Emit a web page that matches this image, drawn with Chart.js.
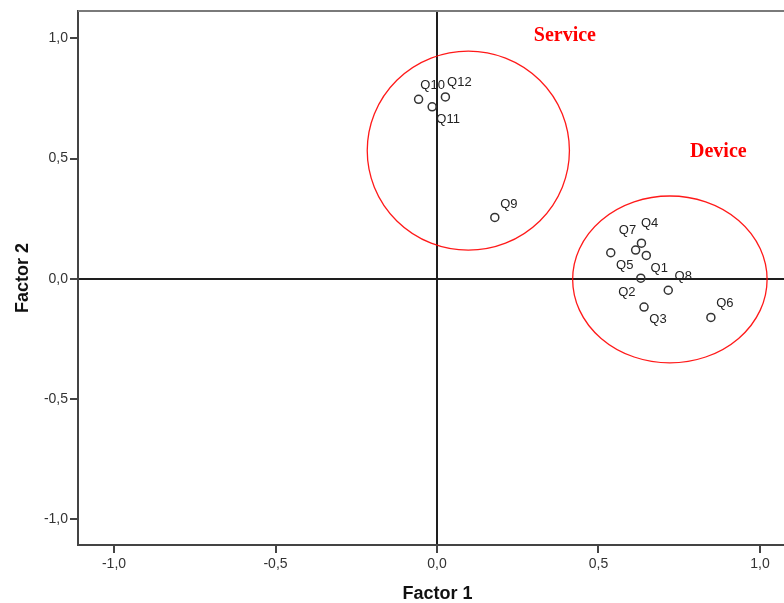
<!DOCTYPE html>
<html>
<head>
<meta charset="utf-8">
<script src="https://cdn.jsdelivr.net/npm/chart.js@4/dist/chart.umd.min.js"></script>
<style>
  html, body { margin: 0; padding: 0; background: #fff; overflow: hidden; }
  #wrap { width: 784px; height: 603px; position: relative; overflow: hidden; }
</style>
</head>
<body>
<div id="wrap"><canvas id="plot" width="797" height="603"></canvas></div>
<script>
// Factor loadings of the twelve questionnaire items
const itemNames = ['Q1', 'Q2', 'Q3', 'Q4', 'Q5', 'Q6', 'Q7', 'Q8', 'Q9', 'Q10', 'Q11', 'Q12'];
const factor1 = [0.648, 0.631, 0.641, 0.615, 0.538, 0.848, 0.633, 0.716, 0.179, -0.057, -0.015, 0.026];
const factor2 = [0.097, 0.002, -0.118, 0.119, 0.108, -0.161, 0.148, -0.048, 0.255, 0.746, 0.715, 0.756];

// Axis ticks
const tickValues = [-1.0, -0.5, 0.0, 0.5, 1.0];

// Item groups outlined on the plot (centre and radii in factor units)
const groupNames = ['Service', 'Device'];
const groupCenterX = [0.097, 0.721];
const groupCenterY = [0.533, -0.003];
const groupRadiusX = [0.313, 0.301];
const groupRadiusY = [0.414, 0.347];
const groupLabelX = [0.396, 0.871];
const groupLabelY = [0.99, 0.505];

// Where each item label sits relative to its marker (pixels)
const labelShift = [[13, 13], [-14, 14], [14, 12], [14, -27], [14, 13], [14, -14],
                    [-14, -13], [15, -14], [14, -13], [14, -14], [16, 13], [14, -15]];

const fmt = v => (Math.abs(v) < 1e-9 ? 0 : v).toFixed(1).replace('.', ',');

// keep the plot box flush with the canvas edges
const noEdgePadding = s => { s.paddingLeft = 0; s.paddingRight = 0; s.paddingTop = 0; s.paddingBottom = 0; };

const overlay = {
  id: 'overlay',
  beforeDatasetsDraw(chart) {
    const { ctx, chartArea: a, scales: { x, y } } = chart;
    ctx.save();
    // top and right frame lines
    ctx.strokeStyle = '#7a7a7a';
    ctx.lineWidth = 2;
    ctx.beginPath();
    ctx.moveTo(a.left, a.top);
    ctx.lineTo(a.right, a.top);
    ctx.lineTo(a.right, a.bottom);
    ctx.stroke();
    // group ellipses
    ctx.beginPath();
    ctx.rect(a.left, a.top, a.right - a.left, a.bottom - a.top);
    ctx.clip();
    ctx.strokeStyle = 'rgba(255,0,0,0.9)';
    ctx.lineWidth = 1.3;
    for (let i = 0; i < groupNames.length; i++) {
      const cx = x.getPixelForValue(groupCenterX[i]);
      const cy = y.getPixelForValue(groupCenterY[i]);
      const rx = x.getPixelForValue(groupCenterX[i] + groupRadiusX[i]) - cx;
      const ry = cy - y.getPixelForValue(groupCenterY[i] + groupRadiusY[i]);
      ctx.beginPath();
      ctx.ellipse(cx, cy, rx, ry, 0, 0, Math.PI * 2);
      ctx.stroke();
    }
    // group names
    ctx.fillStyle = '#ff0000';
    ctx.font = 'bold 20px "Liberation Serif", "Times New Roman", serif';
    ctx.textAlign = 'center';
    ctx.textBaseline = 'alphabetic';
    for (let i = 0; i < groupNames.length; i++) {
      ctx.fillText(groupNames[i], x.getPixelForValue(groupLabelX[i]), y.getPixelForValue(groupLabelY[i]));
    }
    ctx.restore();
  },
  afterDatasetsDraw(chart) {
    const { ctx } = chart;
    const meta = chart.getDatasetMeta(0);
    ctx.save();
    ctx.fillStyle = '#222';
    ctx.font = '13px "Liberation Sans", Arial, sans-serif';
    ctx.textAlign = 'center';
    ctx.textBaseline = 'middle';
    meta.data.forEach((pt, i) => {
      ctx.fillText(itemNames[i], pt.x + labelShift[i][0], pt.y + labelShift[i][1]);
    });
    ctx.restore();
  }
};

const tickFont = { family: '"Liberation Sans", Arial, sans-serif', size: 14 };
const titleFont = { family: '"Liberation Sans", Arial, sans-serif', size: 18, weight: 'bold', lineHeight: 1 };

new Chart(document.getElementById('plot'), {
  type: 'scatter',
  data: {
    datasets: [{
      data: factor1.map((v, i) => ({ x: v, y: factor2[i] })),
      pointStyle: 'circle',
      pointRadius: 4,
      pointBorderWidth: 1.5,
      pointBorderColor: '#333',
      pointBackgroundColor: 'rgba(255,255,255,0)'
    }]
  },
  options: {
    responsive: false,
    animation: false,
    events: [],
    layout: { autoPadding: false, padding: { top: 11, right: 0, left: 0, bottom: 0 } },
    plugins: { legend: { display: false }, tooltip: { enabled: false } },
    scales: {
      x: {
        type: 'linear',
        min: -1.1115,
        max: 1.1146,
        afterFit(s) { s.height = 58; noEdgePadding(s); },
        afterBuildTicks(s) { s.ticks = tickValues.map(v => ({ value: v })); },
        ticks: { callback: fmt, color: '#333', font: tickFont, padding: 3, maxRotation: 0 },
        grid: {
          drawOnChartArea: true,
          color: c => (c.tick && c.tick.value === 0 ? '#1e1e1e' : 'rgba(0,0,0,0)'),
          lineWidth: c => (c.tick && c.tick.value === 0 ? 2 : 0),
          tickColor: '#444',
          tickLength: 8,
          tickWidth: 2
        },
        border: { display: true, color: '#444', width: 2 },
        title: { display: true, text: 'Factor 1', color: '#111', font: titleFont, padding: 0 }
      },
      y: {
        type: 'linear',
        min: -1.1077,
        max: 1.1136,
        afterFit(s) { s.width = 78; noEdgePadding(s); },
        afterBuildTicks(s) { s.ticks = tickValues.map(v => ({ value: v })); },
        ticks: { callback: fmt, color: '#333', font: tickFont, padding: 2 },
        grid: {
          drawOnChartArea: true,
          color: c => (c.tick && c.tick.value === 0 ? '#1e1e1e' : 'rgba(0,0,0,0)'),
          lineWidth: c => (c.tick && c.tick.value === 0 ? 2 : 0),
          tickColor: '#444',
          tickLength: 8,
          tickWidth: 2
        },
        border: { display: true, color: '#444', width: 2 },
        title: { display: true, text: 'Factor 2', color: '#111', font: titleFont, padding: { top: 14, bottom: 0 } }
      }
    }
  },
  plugins: [overlay]
});
</script>
</body>
</html>
